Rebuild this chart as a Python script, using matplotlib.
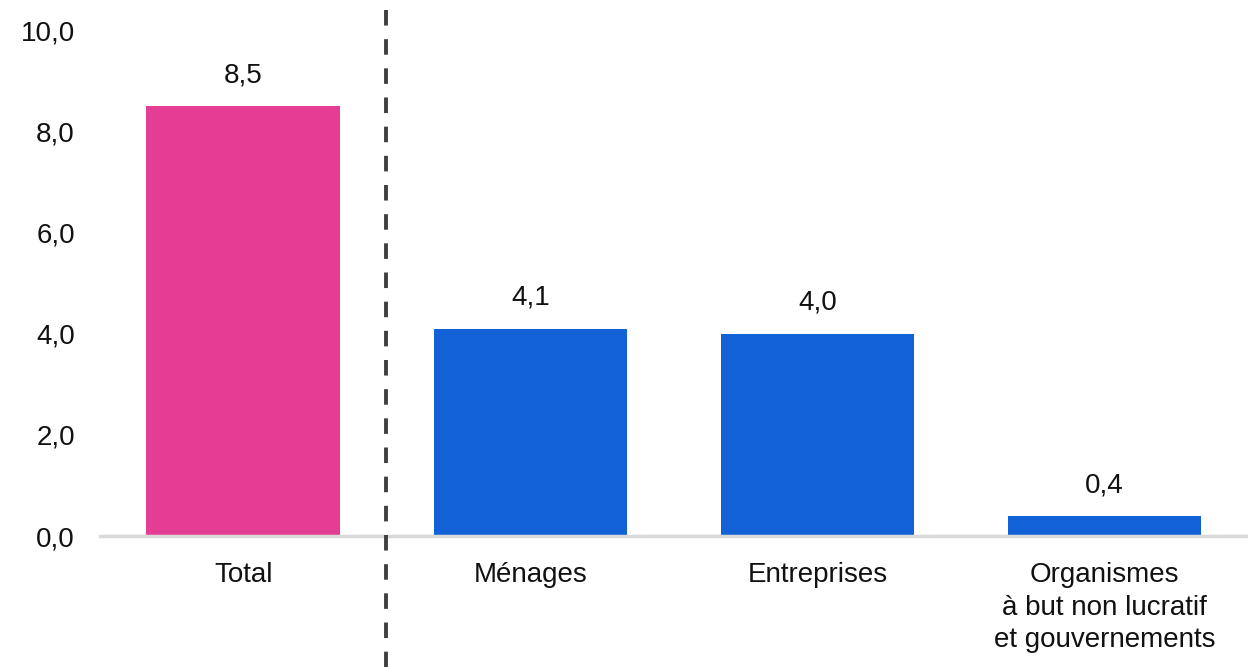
import matplotlib
matplotlib.use("Agg")
import matplotlib.pyplot as plt
from matplotlib.lines import Line2D

categories = ["Total", "Ménages", "Entreprises", "Organismes\nà but non lucratif\net gouvernements"]
values = [8.5, 4.1, 4.0, 0.4]
colors = ["#E33D94", "#1261D6", "#1261D6", "#1261D6"]
yticks = [0, 2, 4, 6, 8, 10]

plt.rcParams['font.family'] = ['Liberation Sans', 'DejaVu Sans']

fig = plt.figure(figsize=(12.48, 6.67), dpi=100)
ax = fig.add_axes([0.080, 131/667, 0.920, (536-30)/667])

x = list(range(len(categories)))
ax.bar(x, values, width=0.675, color=colors, zorder=2)
for xi, v in zip(x, values):
    ax.text(xi, v + 0.35, f"{v:.1f}".replace(".", ","), ha="center", va="bottom", fontsize=20, color="#111111")

ax.set_xlim(-0.5, 3.5)
ax.set_ylim(0, 10)
ax.set_yticks(yticks)
ax.set_yticklabels([f"{t:.1f}".replace(".", ",") for t in yticks], fontsize=20, color="#111111")
ax.set_xticks(x)
ax.set_xticklabels(categories, fontsize=20, color="#111111", linespacing=1.32)
ax.tick_params(axis="both", length=0)
ax.tick_params(axis="x", pad=19)
ax.tick_params(axis="y", pad=18)
for s in ["top", "right", "left"]:
    ax.spines[s].set_visible(False)
ax.spines["bottom"].set_color("#D9D9D9")
ax.spines["bottom"].set_linewidth(2.5)

# dashed separator between Total and the components
fig.add_artist(Line2D([386/1248, 386/1248], [1 - 10/667, 0], transform=fig.transFigure,
                      color="#404040", linewidth=2.8, linestyle=(0, (4, 3.5))))

fig.savefig("out.png", dpi=100, facecolor="white")
